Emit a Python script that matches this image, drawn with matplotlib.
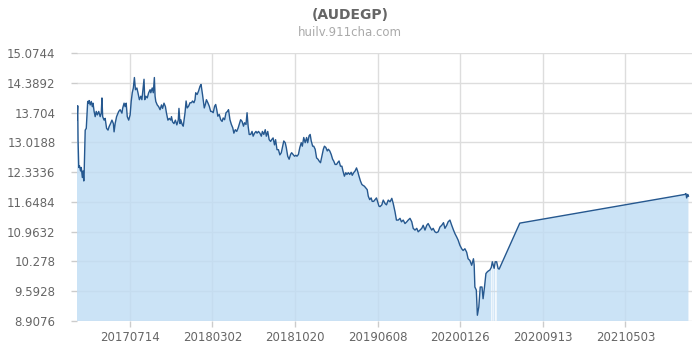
import matplotlib
matplotlib.use("Agg")
import matplotlib.pyplot as plt
import numpy as np
import pandas as pd

dates = [
    "2017-02-15", "2017-02-17", "2017-02-18", "2017-02-20", "2017-02-22", "2017-02-25", "2017-02-27",
    "2017-03-02", "2017-03-04", "2017-03-06", "2017-03-07", "2017-03-10", "2017-03-13", "2017-03-17",
    "2017-03-19", "2017-03-21", "2017-03-24", "2017-03-27", "2017-03-30", "2017-04-01", "2017-04-04",
    "2017-04-07", "2017-04-10", "2017-04-13", "2017-04-17", "2017-04-21", "2017-04-24", "2017-04-26",
    "2017-04-28", "2017-05-02", "2017-05-05", "2017-05-09", "2017-05-13", "2017-05-16", "2017-05-20",
    "2017-05-24", "2017-05-28", "2017-05-30", "2017-06-02", "2017-06-06", "2017-06-12", "2017-06-16",
    "2017-06-21", "2017-06-23", "2017-06-27", "2017-06-30", "2017-07-03", "2017-07-06", "2017-07-10",
    "2017-07-14", "2017-07-17", "2017-07-20", "2017-07-23", "2017-07-26", "2017-07-29", "2017-08-02",
    "2017-08-05", "2017-08-09", "2017-08-13", "2017-08-16", "2017-08-19", "2017-08-22", "2017-08-24",
    "2017-08-27", "2017-08-31", "2017-09-04", "2017-09-08", "2017-09-10", "2017-09-14", "2017-09-17",
    "2017-09-20", "2017-09-22", "2017-09-24", "2017-09-28", "2017-10-02", "2017-10-06", "2017-10-10",
    "2017-10-13", "2017-10-17", "2017-10-21", "2017-10-24", "2017-10-28", "2017-11-01", "2017-11-05",
    "2017-11-07", "2017-11-10", "2017-11-14", "2017-11-18", "2017-11-22", "2017-11-26", "2017-11-28",
    "2017-12-01",
    "2017-12-03", "2017-12-07", "2017-12-10", "2017-12-15", "2017-12-18", "2017-12-21", "2017-12-25",
    "2017-12-29", "2018-01-02", "2018-01-05", "2018-01-09", "2018-01-12", "2018-01-14", "2018-01-18",
    "2018-01-22", "2018-01-26", "2018-01-29", "2018-01-31", "2018-02-02", "2018-02-04", "2018-02-07",
    "2018-02-10", "2018-02-13", "2018-02-17", "2018-02-21", "2018-02-25", "2018-02-28", "2018-03-04",
    "2018-03-08", "2018-03-11", "2018-03-14", "2018-03-17", "2018-03-21", "2018-03-25", "2018-03-29",
    "2018-04-01", "2018-04-05", "2018-04-09", "2018-04-13", "2018-04-16", "2018-04-20", "2018-04-24",
    "2018-04-28", "2018-05-01", "2018-05-05", "2018-05-09", "2018-05-13", "2018-05-16", "2018-05-20",
    "2018-05-24", "2018-05-28", "2018-05-31", "2018-06-04", "2018-06-07", "2018-06-10", "2018-06-13",
    "2018-06-17", "2018-06-21", "2018-06-24", "2018-06-28", "2018-07-02", "2018-07-05", "2018-07-09",
    "2018-07-13", "2018-07-17", "2018-07-20", "2018-07-24", "2018-07-28", "2018-07-31", "2018-08-04",
    "2018-08-08", "2018-08-12", "2018-08-15", "2018-08-19", "2018-08-23", "2018-08-26", "2018-08-30",
    "2018-09-03", "2018-09-07",
    "2018-09-11", "2018-09-14", "2018-09-18", "2018-09-22", "2018-09-25", "2018-09-29", "2018-10-03",
    "2018-10-07", "2018-10-10", "2018-10-14", "2018-10-18", "2018-10-22", "2018-10-25", "2018-10-29",
    "2018-11-02", "2018-11-06", "2018-11-09", "2018-11-13", "2018-11-17", "2018-11-21", "2018-11-24",
    "2018-11-28", "2018-12-01", "2018-12-04", "2018-12-08", "2018-12-11", "2018-12-15", "2018-12-19",
    "2018-12-23", "2018-12-26", "2018-12-30", "2019-01-03", "2019-01-07", "2019-01-10", "2019-01-14",
    "2019-01-18", "2019-01-21", "2019-01-25", "2019-01-29", "2019-02-02", "2019-02-05", "2019-02-09",
    "2019-02-13", "2019-02-16", "2019-02-20", "2019-02-24", "2019-02-28", "2019-03-03", "2019-03-07",
    "2019-03-11", "2019-03-14", "2019-03-18", "2019-03-22", "2019-03-26", "2019-03-29", "2019-04-02",
    "2019-04-06", "2019-04-10", "2019-04-13", "2019-04-17", "2019-04-21", "2019-04-25", "2019-04-28",
    "2019-05-02", "2019-05-06", "2019-05-10", "2019-05-13", "2019-05-17", "2019-05-21", "2019-05-24",
    "2019-05-28", "2019-06-01", "2019-06-05", "2019-06-08", "2019-06-12",
    "2019-06-15", "2019-06-20", "2019-06-24", "2019-06-29", "2019-07-03", "2019-07-08", "2019-07-13",
    "2019-07-18", "2019-07-22", "2019-07-27", "2019-07-31", "2019-08-05", "2019-08-10", "2019-08-14",
    "2019-08-19", "2019-08-24", "2019-08-29", "2019-09-02", "2019-09-07", "2019-09-12", "2019-09-16",
    "2019-09-21", "2019-09-26", "2019-09-30", "2019-10-05", "2019-10-10", "2019-10-14", "2019-10-19",
    "2019-10-24", "2019-10-28", "2019-11-02", "2019-11-07", "2019-11-11", "2019-11-16", "2019-11-20",
    "2019-11-25", "2019-11-30", "2019-12-05", "2019-12-10", "2019-12-14", "2019-12-19", "2019-12-23",
    "2019-12-28", "2020-01-02", "2020-01-07", "2020-01-11", "2020-01-16", "2020-01-20", "2020-01-25",
    "2020-01-30", "2020-02-03", "2020-02-08", "2020-02-13", "2020-02-17", "2020-02-22", "2020-02-27",
    "2020-03-03",
    "2020-03-05", "2020-03-07", "2020-03-11", "2020-03-14", "2020-03-18", "2020-03-22", "2020-03-27",
    "2020-03-30", "2020-04-03", "2020-04-07", "2020-04-11", "2020-04-14", "2020-04-18", "2020-04-22",
    "2020-04-23", "2020-04-25", "2020-04-28", "2020-04-29", "2020-04-30", "2020-05-03", "2020-05-05",
    "2020-05-07", "2020-05-11", "2020-05-14",
    "2020-07-11", "2021-10-17", "2021-10-20", "2021-10-22", "2021-10-25", "2021-10-27",
]

values = [
    13.53, 13.86, 13.06, 12.44, 12.48, 12.36, 12.44,
    12.21, 12.36, 12.13, 12.29, 13.30, 13.34, 13.96,
    13.92, 13.98, 13.88, 13.96, 13.84, 13.92, 13.73,
    13.61, 13.73, 13.65, 13.73, 13.61, 13.69, 14.04,
    13.61, 13.53, 13.57, 13.34, 13.30, 13.38, 13.45,
    13.53, 13.45, 13.26, 13.45, 13.61, 13.73, 13.77,
    13.69, 13.80, 13.92, 13.84, 13.92, 13.61, 13.53,
    13.65, 13.96, 14.16, 14.27, 14.51, 14.23, 14.27,
    14.16, 14.00, 14.08, 14.00, 14.23, 14.47, 14.00,
    14.08, 14.04, 14.16, 14.23, 14.16, 14.27, 14.16,
    14.51, 14.08, 13.96, 13.88, 13.84, 13.77, 13.88,
    13.80, 13.92, 13.84, 13.69, 13.53, 13.57, 13.53,
    13.61, 13.49, 13.45, 13.53, 13.42, 13.53, 13.80,
    13.45,
    13.54, 13.43, 13.39, 13.70, 13.97, 13.81, 13.85,
    13.93, 13.93, 13.97, 13.93, 14.00, 14.16, 14.12,
    14.20, 14.31, 14.35, 14.24, 14.12, 14.00, 13.81,
    13.89, 14.00, 13.93, 13.85, 13.73, 13.73, 13.70,
    13.85, 13.89, 13.77, 13.62, 13.66, 13.54, 13.50,
    13.58, 13.54, 13.70, 13.73, 13.77, 13.54, 13.43,
    13.35, 13.23, 13.31, 13.27, 13.35, 13.43, 13.54,
    13.50, 13.39, 13.47, 13.43, 13.70, 13.39, 13.20,
    13.20, 13.27, 13.16, 13.23, 13.27, 13.23, 13.27,
    13.23, 13.16, 13.27, 13.20, 13.31, 13.16, 13.27,
    13.08, 13.04, 13.08, 13.12, 12.96, 13.08, 12.85,
    12.85, 12.73,
    12.78, 12.90, 13.05, 13.01, 12.90, 12.70, 12.63,
    12.74, 12.78, 12.74, 12.70, 12.72, 12.70, 12.74,
    12.90, 13.01, 12.93, 13.13, 13.01, 13.13, 13.01,
    13.17, 13.20, 13.05, 12.93, 12.93, 12.86, 12.66,
    12.63, 12.59, 12.55, 12.70, 12.86, 12.93, 12.90,
    12.82, 12.86, 12.82, 12.74, 12.63, 12.59, 12.51,
    12.51, 12.55, 12.59, 12.47, 12.47, 12.36, 12.24,
    12.32, 12.28, 12.32, 12.28, 12.33, 12.26, 12.32,
    12.36, 12.43, 12.36, 12.24, 12.13, 12.05, 12.03,
    12.01, 11.97, 11.93, 11.78, 11.70, 11.74, 11.66,
    11.66, 11.70, 11.74, 11.66, 11.55,
    11.54, 11.58, 11.69, 11.61, 11.58, 11.69, 11.65,
    11.73, 11.61, 11.42, 11.23, 11.23, 11.27, 11.19,
    11.23, 11.15, 11.19, 11.23, 11.27, 11.19, 11.04,
    11.00, 11.04, 10.96, 11.00, 11.04, 11.11, 11.00,
    11.11, 11.15, 11.07, 11.00, 11.04, 10.96, 10.94,
    10.96, 11.07, 11.11, 11.17, 11.04, 11.11, 11.19,
    11.23, 11.11, 11.00, 10.92, 10.84, 10.77, 10.65,
    10.57, 10.53, 10.57, 10.49, 10.34, 10.30, 10.19,
    10.34,
    10.20, 9.69, 9.62, 9.04, 9.23, 9.69, 9.69,
    9.42, 9.69, 10.00, 10.04, 10.06, 10.08, 10.14,
    np.nan, 10.27, 10.18, np.nan, 10.12, 10.27, np.nan,
    10.27, 10.12, 10.10,
    11.16, 11.82, 11.84, 11.74, 11.82, 11.78,
]

y_tick_values = [8.9076, 9.5928, 10.278, 10.9632, 11.6484, 12.3336, 13.0188, 13.704, 14.3892, 15.0744]
y_tick_labels = ["8.9076", "9.5928", "10.278", "10.9632", "11.6484", "12.3336", "13.0188", "13.704", "14.3892", "15.0744"]
x_tick_labels = ["20170714", "20180302", "20181020", "20190608", "20200126", "20200913", "20210503"]
x_range = ["2017-02-15", "2021-11-06"]
title = "(AUDEGP)"
subtitle = "huilv.911cha.com"

d = pd.to_datetime(dates)
v = np.array(values, dtype=float)
ok = ~np.isnan(v)

fig = plt.figure(figsize=(7, 3.5), dpi=100)
ax = fig.add_axes([77 / 700, 1 - 321 / 350, 615 / 700, 268 / 350])

ax.fill_between(d, v, y_tick_values[0], color="#bfdcf4", alpha=0.8, linewidth=0, zorder=2)
ax.plot(d[ok], v[ok], color="#26588f", lw=1.0, zorder=3)

ax.set_ylim(y_tick_values[0], y_tick_values[-1])
ax.set_xlim(pd.to_datetime(x_range[0]), pd.to_datetime(x_range[1]))
ax.set_yticks(y_tick_values)
ax.set_yticklabels(y_tick_labels)
ax.set_xticks(pd.to_datetime(x_tick_labels, format="%Y%m%d"))
ax.set_xticklabels(x_tick_labels)

ax.grid(True, color="#dddddd", lw=1, zorder=1)
ax.set_axisbelow(True)
for s in ax.spines.values():
    s.set_visible(False)
ax.tick_params(axis="y", length=4.5, width=1, color="#cccccc", labelcolor="#666666", labelsize=8.5, pad=11)
ax.tick_params(axis="x", length=4, width=1, color="#cccccc", labelcolor="#666666", labelsize=8.5, pad=3)

fig.text(0.5, 1 - 15 / 350, title, ha="center", va="center", fontsize=10, fontweight="bold", color="#666666")
fig.text(0.5, 1 - 32 / 350, subtitle, ha="center", va="center", fontsize=8.5, color="#aaaaaa")

fig.savefig("out.png", dpi=100)
